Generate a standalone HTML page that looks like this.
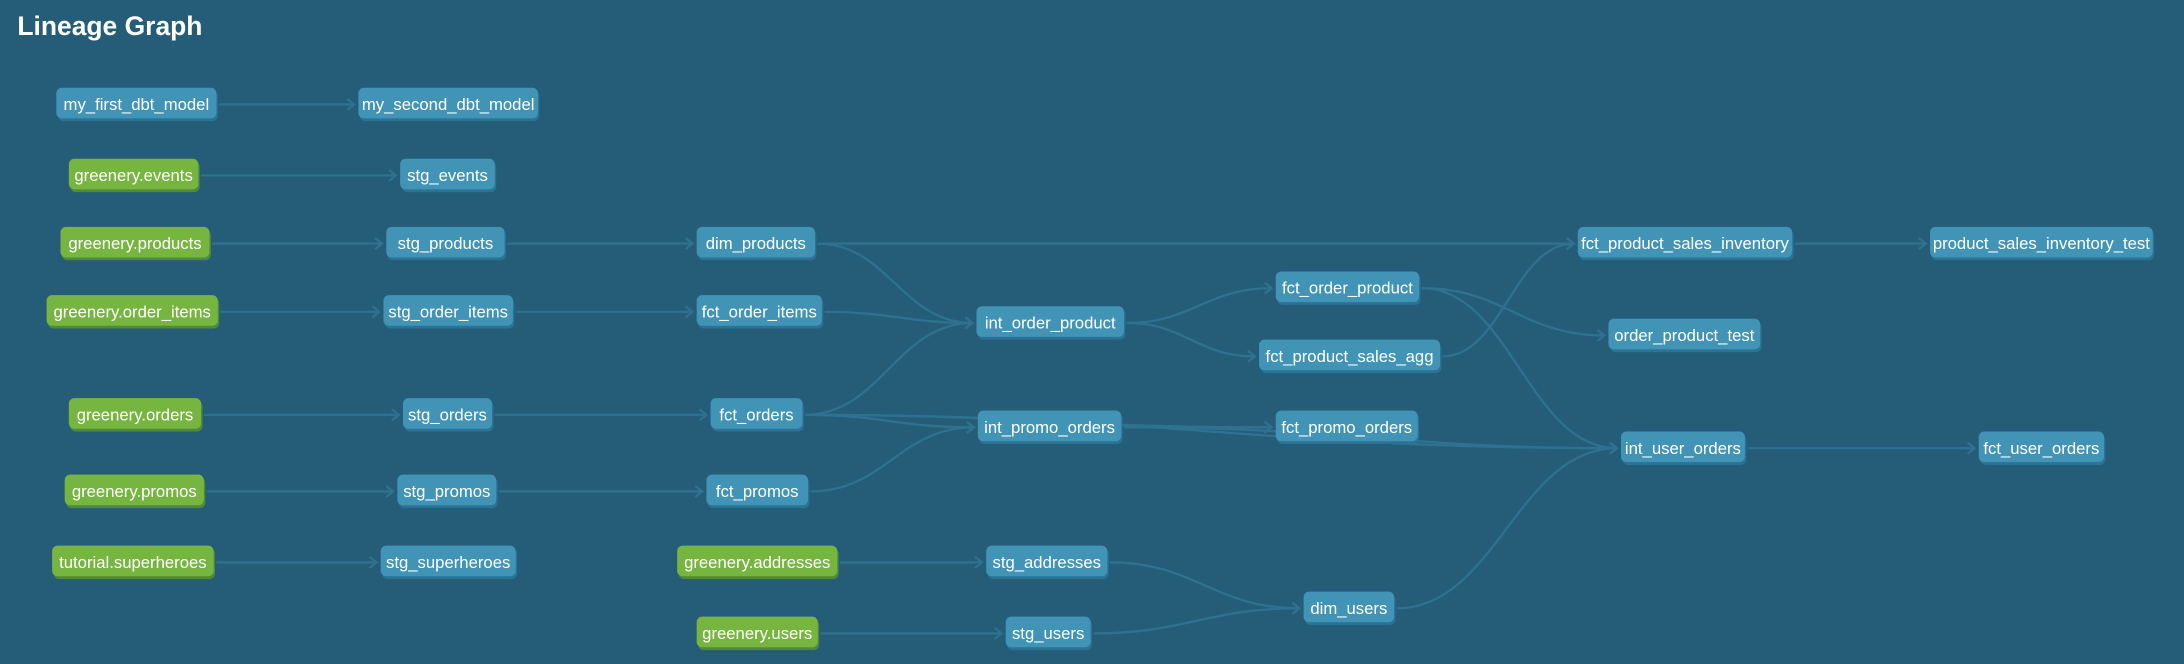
<!DOCTYPE html>
<html><head><meta charset="utf-8">
<style>
html,body{margin:0;padding:0;background:#255d78;}
svg{display:block;}
text{font-family:"Liberation Sans",sans-serif;}
</style></head>
<body>
<svg id="g" width="2184" height="664" viewBox="0 0 1568 477" xmlns="http://www.w3.org/2000/svg">
<rect width="1568" height="477" fill="#255d78"/>
<text x="12" y="25" font-size="19" font-weight="bold" fill="#ffffff">Lineage Graph</text>
<g id="edges"></g>
<g id="nodes"></g>
</svg>
<script>
const nodeNames = ["my_first_dbt_model","my_second_dbt_model","greenery.events","stg_events","greenery.products","stg_products","dim_products","greenery.order_items","stg_order_items","fct_order_items","int_order_product","fct_order_product","fct_product_sales_agg","fct_product_sales_inventory","product_sales_inventory_test","order_product_test","greenery.orders","stg_orders","fct_orders","int_promo_orders","fct_promo_orders","int_user_orders","fct_user_orders","greenery.promos","stg_promos","fct_promos","tutorial.superheroes","stg_superheroes","greenery.addresses","stg_addresses","greenery.users","stg_users","dim_users"];
const nodeX1 = [40,257,49,287,43,277,500,33,275,500,701,916,904,1133,1386,1155,49,289,510,702,916,1164,1421,46,285,507,37,273,486,708,500,722,936];
const nodeX2 = [155,386,142,355,150,362,585,156,368,590,807,1019,1034,1287,1546,1264,144,353,576,805,1018,1253,1511,146,356,580,153,370,601,795,587,783,1001];
const nodeY = [75,75,126,126,175,175,175,224,224,224,232,207,256,175,175,241,298,298,298,307,307,322,322,353,353,353,404,404,404,404,455,455,437];
const nodeSource = ["greenery.events","greenery.products","greenery.order_items","greenery.orders","greenery.promos","tutorial.superheroes","greenery.addresses","greenery.users"];
const edgeFrom = ["my_first_dbt_model","greenery.events","greenery.products","stg_products","dim_products","dim_products","greenery.order_items","stg_order_items","fct_order_items","int_order_product","int_order_product","fct_order_product","fct_order_product","fct_product_sales_agg","fct_product_sales_inventory","greenery.orders","stg_orders","fct_orders","fct_orders","fct_orders","fct_orders","int_promo_orders","int_promo_orders","greenery.promos","stg_promos","fct_promos","tutorial.superheroes","greenery.addresses","stg_addresses","greenery.users","stg_users","dim_users","int_user_orders"];
const edgeTo = ["my_second_dbt_model","stg_events","stg_products","dim_products","fct_product_sales_inventory","int_order_product","stg_order_items","fct_order_items","int_order_product","fct_order_product","fct_product_sales_agg","order_product_test","int_user_orders","fct_product_sales_inventory","product_sales_inventory_test","stg_orders","fct_orders","int_order_product","int_promo_orders","fct_promo_orders","int_user_orders","fct_promo_orders","int_user_orders","stg_promos","fct_promos","int_promo_orders","stg_superheroes","stg_addresses","dim_users","stg_users","dim_users","int_user_orders","fct_user_orders"];

const NS = "http://www.w3.org/2000/svg";
const H = 22;
const eg = document.getElementById('edges');
const ng = document.getElementById('nodes');
function idx(n){ return nodeNames.indexOf(n); }
function slug(s){ return s.replace(/[._]/g,'-'); }

for (let k = 0; k < edgeFrom.length; k++) {
  const a = idx(edgeFrom[k]), b = idx(edgeTo[k]);
  const x1 = nodeX2[a] + 2, y1 = nodeY[a];
  const x2 = nodeX1[b] - 3, y2 = nodeY[b];
  const dx = (x2 - x1) * 0.45;
  const p = document.createElementNS(NS, 'path');
  p.setAttribute('d', `M${x1},${y1} C${x1+dx},${y1} ${x2-dx},${y2} ${x2},${y2}`);
  p.setAttribute('fill', 'none');
  p.setAttribute('stroke', '#2f7290');
  p.setAttribute('stroke-width', '1.6');
  
  
  eg.appendChild(p);
  const ar = document.createElementNS(NS, 'path');
  ar.setAttribute('d', `M${x2-5},${y2-4} L${x2},${y2} L${x2-5},${y2+4}`);
  ar.setAttribute('fill', 'none');
  ar.setAttribute('stroke', '#2f7290');
  ar.setAttribute('stroke-width', '1.6');
  
  
  eg.appendChild(ar);
}

for (let i = 0; i < nodeNames.length; i++) {
  const src = nodeSource.indexOf(nodeNames[i]) >= 0;
  const g = document.createElementNS(NS, 'g');
  
  
  const w = nodeX2[i] - nodeX1[i], y = nodeY[i] - H/2 - 1;
  const sh = document.createElementNS(NS, 'rect');
  sh.setAttribute('x', nodeX1[i] + 1); sh.setAttribute('y', y + 2);
  sh.setAttribute('width', w); sh.setAttribute('height', H);
  sh.setAttribute('rx', 4);
  sh.setAttribute('fill', src ? '#4f8a3a' : '#2a7395');
  
  
  g.appendChild(sh);
  const r = document.createElementNS(NS, 'rect');
  r.setAttribute('x', nodeX1[i]); r.setAttribute('y', y);
  r.setAttribute('width', w); r.setAttribute('height', H);
  r.setAttribute('rx', 4);
  r.setAttribute('fill', src ? '#77b541' : '#4194b6');
  
  
  g.appendChild(r);
  const t = document.createElementNS(NS, 'text');
  t.setAttribute('x', (nodeX1[i] + nodeX2[i]) / 2);
  t.setAttribute('y', nodeY[i] + 4);
  t.setAttribute('text-anchor', 'middle');
  t.setAttribute('font-size', '12');
  t.setAttribute('fill', '#ffffff');
  
  
  t.textContent = nodeNames[i];
  g.appendChild(t);
  ng.appendChild(g);
}
</script>
</body></html>
